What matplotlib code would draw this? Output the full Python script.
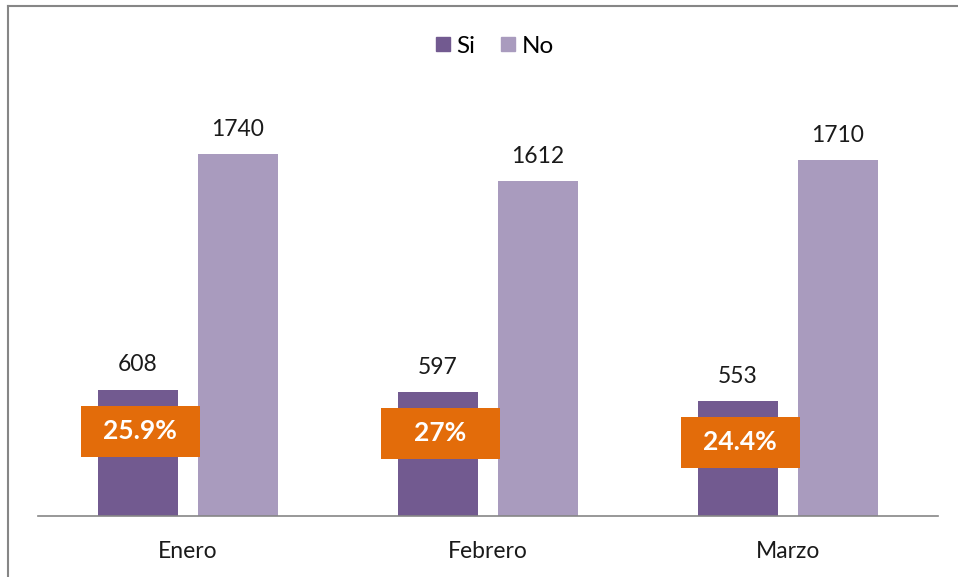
import matplotlib.pyplot as plt
from matplotlib.patches import Rectangle
from matplotlib.lines import Line2D
import numpy as np

months = ['Enero', 'Febrero', 'Marzo']
si_values = [608, 597, 553]
no_values = [1740, 1612, 1710]
pct_labels = ['25.9%', '27%', '24.4%']

SI_COLOR = '#725A90'
NO_COLOR = '#A99BBE'
ORANGE = '#E36C0A'
GRAY = '#868686'


def plot_data():
    """
    Draw the Si / No monthly bar chart with percentage boxes.
    :return: None
    """
    plt.rcParams['font.family'] = ['Lato', 'DejaVu Sans']

    fig = plt.figure(figsize=(9.58, 5.77), dpi=100)
    ax = fig.add_axes([0.0397, 0.1057, 0.9394, 0.721])

    x = np.arange(len(months))
    width = 0.2667
    off = 0.1667
    ax.bar(x - off, si_values, width, color=SI_COLOR, label='Si')
    ax.bar(x + off, no_values, width, color=NO_COLOR, label='No')

    ax.set_xlim(-0.5, 2.5)
    ax.set_ylim(0, 2000)

    # value labels above bars
    for xi, v in zip(x - off, si_values):
        ax.annotate(str(v), (xi, v), xytext=(0, 13), textcoords='offset points',
                    ha='center', va='baseline', fontsize=16.5, color='#1a1a1a')
    for xi, v in zip(x + off, no_values):
        ax.annotate(str(v), (xi, v), xytext=(0, 13), textcoords='offset points',
                    ha='center', va='baseline', fontsize=16.5, color='#1a1a1a')

    # orange percentage boxes
    px_per_unit = 5.77 * 100 * 0.721 / 2000
    box_w = 119 / 300
    box_h = 51 / px_per_unit
    gap = 16 / px_per_unit
    for xi, v, lab in zip(x - off, si_values, pct_labels):
        top = v - gap
        ax.add_patch(Rectangle((xi + 0.007 - box_w / 2, top - box_h), box_w, box_h,
                               facecolor=ORANGE, edgecolor='none', zorder=3))
        ax.text(xi + 0.007, top - box_h / 2, lab, ha='center', va='center',
                fontsize=19, fontweight='bold', color='white', zorder=4)

    # axes styling
    for side in ['top', 'right', 'left']:
        ax.spines[side].set_visible(False)
    ax.spines['bottom'].set_color(GRAY)
    ax.spines['bottom'].set_linewidth(1.2)
    ax.set_yticks([])
    ax.set_xticks(x)
    ax.set_xticklabels(months, fontsize=16.5, color='#1a1a1a')
    ax.tick_params(axis='x', length=0, pad=18)

    # legend
    handles = [Line2D([], [], marker='s', linestyle='none', markersize=9.5,
                      markerfacecolor=SI_COLOR, markeredgecolor=SI_COLOR),
               Line2D([], [], marker='s', linestyle='none', markersize=9.5,
                      markerfacecolor=NO_COLOR, markeredgecolor=NO_COLOR)]
    fig.legend(handles, ['Si', 'No'], loc='center', bbox_to_anchor=(0.516, 0.92),
               ncol=2, frameon=False, fontsize=17.5, handletextpad=0.2,
               columnspacing=1.0, handlelength=0.7)

    # chart border (left and top edges visible)
    fig.add_artist(Line2D([8 / 958, 8 / 958], [0, 1 - 6 / 577], color=GRAY,
                          linewidth=1.5, transform=fig.transFigure))
    fig.add_artist(Line2D([8 / 958, 1], [1 - 6 / 577, 1 - 6 / 577], color=GRAY,
                          linewidth=1.5, transform=fig.transFigure))

    fig.savefig('out.png', dpi=100)


if __name__ == '__main__':
    plot_data()
